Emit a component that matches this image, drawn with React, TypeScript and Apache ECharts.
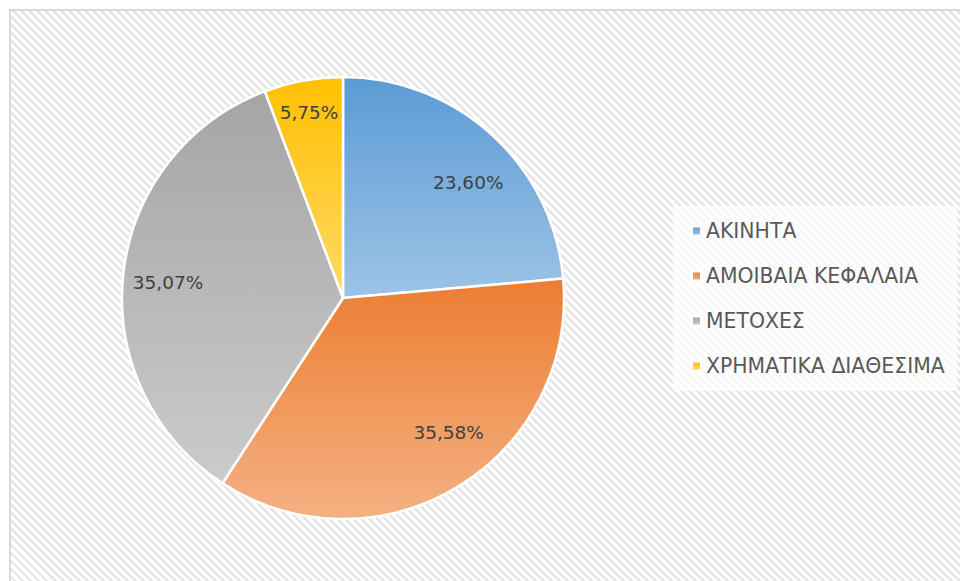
import React, { useEffect, useRef } from "react";
import * as echarts from "echarts";

const categories = ["ΑΚΙΝΗΤΑ", "ΑΜΟΙΒΑΙΑ ΚΕΦΑΛΑΙΑ", "ΜΕΤΟΧΕΣ", "ΧΡΗΜΑΤΙΚΑ ΔΙΑΘΕΣΙΜΑ"];
const values = [23.6, 35.58, 35.07, 5.75];
const darkColors = ["#5B9BD5", "#ED7D31", "#A5A5A5", "#FFC000"];
const lightColors = ["#9DC3E6", "#F4B183", "#CBCBCB", "#FFD966"];
const labelNudges = [[5, 16], [14, -18], [2, 4], [-2, -10]];

const fmt = (v: number) => v.toFixed(2).replace(".", ",") + "%";

export default function App() {
  const ref = useRef<HTMLDivElement>(null);
  useEffect(() => {
    if (!ref.current) return;
    const chart = echarts.init(ref.current, undefined, { renderer: "svg" });
    const font = "'DejaVu Sans', sans-serif";
    const mainData = categories.map((name, i) => ({
      name,
      value: values[i],
      itemStyle: {
        color: {
          type: "linear",
          x: 0,
          y: 0,
          x2: 0,
          y2: 1,
          colorStops: [
            { offset: 0, color: darkColors[i] },
            { offset: 1, color: lightColors[i] },
          ],
        },
      },
    }));
    const labelData = categories.map((name, i) => ({
      name,
      value: values[i],
      label: { offset: labelNudges[i] },
    }));
    chart.setOption({
      animation: false,
      backgroundColor: "transparent",
      color: darkColors,
      legend: {
        orient: "vertical",
        left: 673,
        top: 206,
        padding: [15, 12, 15, 18],
        backgroundColor: "rgba(255,255,255,0.75)",
        icon: "rect",
        itemWidth: 9,
        itemHeight: 9,
        itemGap: 25,
        data: categories,
        textStyle: { fontFamily: font, fontSize: 20.4, color: "#595959", lineHeight: 20 },
      },
      series: [
        {
          type: "pie",
          center: [343, 298],
          radius: [0, 221],
          startAngle: 90,
          clockwise: true,
          silent: true,
          label: { show: false },
          labelLine: { show: false },
          itemStyle: { borderColor: "#ffffff", borderWidth: 2.5 },
          data: mainData,
        },
        {
          type: "pie",
          center: [343, 298],
          radius: [0, 350],
          startAngle: 90,
          clockwise: true,
          silent: true,
          itemStyle: { color: "rgba(0,0,0,0)", borderWidth: 0 },
          label: {
            show: true,
            position: "inside",
            fontFamily: font,
            fontSize: 18.5,
            color: "#404040",
            formatter: (p: any) => fmt(p.value),
          },
          labelLine: { show: false },
          emphasis: { disabled: true },
          data: labelData,
        },
      ],
    });
    return () => chart.dispose();
  }, []);
  return (
    <div style={{ position: "fixed", left: 0, top: 0, width: 960, height: 581, background: "#ffffff", overflow: "hidden" }}>
      <div
        style={{
          position: "absolute",
          left: 9,
          top: 9,
          width: 980,
          height: 600,
          borderLeft: "2px solid #d9d9d9",
          borderTop: "2px solid #d9d9d9",
          background: "repeating-linear-gradient(45deg, #e7e7e7 0px, #e7e7e7 2.8px, #ffffff 2.8px, #ffffff 5.66px)",
        }}
      />
      <div ref={ref} style={{ position: "absolute", left: 0, top: 0, width: 960, height: 581 }} />
    </div>
  );
}
